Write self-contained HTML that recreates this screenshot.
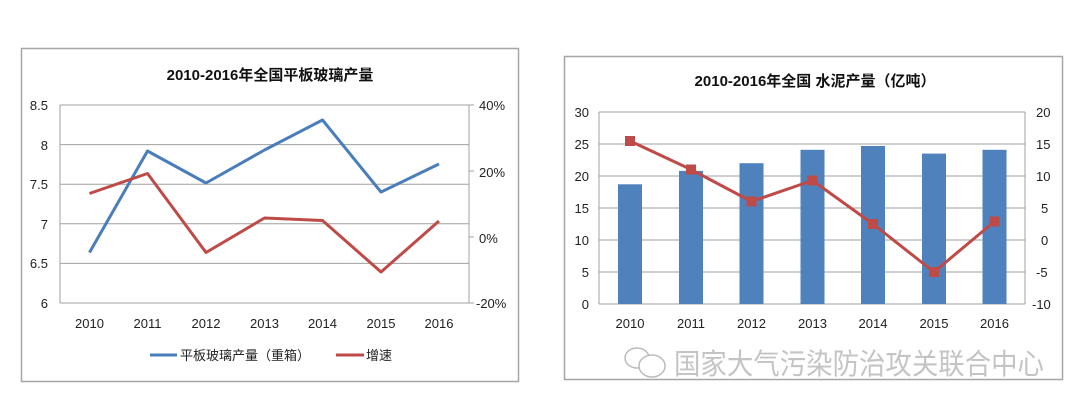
<!DOCTYPE html>
<html><head><meta charset="utf-8"><style>
html,body{margin:0;padding:0;background:#fff;}
svg{display:block;font-family:"Liberation Sans","Noto Sans CJK SC",sans-serif;}
</style></head><body>
<svg width="1080" height="407" viewBox="0 0 1080 407">
<!-- LEFT CHART -->
<rect x="21.5" y="48.5" width="497" height="333" fill="#fff" stroke="#a6a6a6" stroke-width="1.5"/>
<text x="270" y="80" text-anchor="middle" font-size="15" font-weight="bold" fill="#111">2010-2016年全国平板玻璃产量</text>
<g stroke="#a0a0a0" stroke-width="1">
<line x1="60" y1="105" x2="469" y2="105"/>
<line x1="60" y1="144.6" x2="469" y2="144.6"/>
<line x1="60" y1="184.2" x2="469" y2="184.2"/>
<line x1="60" y1="223.8" x2="469" y2="223.8"/>
<line x1="60" y1="263.4" x2="469" y2="263.4"/>
<line x1="60" y1="303" x2="469" y2="303"/>
<line x1="60" y1="105" x2="60" y2="303"/>
<line x1="469" y1="105" x2="469" y2="303"/>
<line x1="469" y1="105" x2="474" y2="105"/>
<line x1="469" y1="171" x2="474" y2="171"/>
<line x1="469" y1="237" x2="474" y2="237"/>
<line x1="469" y1="303" x2="474" y2="303"/>
</g>
<g font-size="13" fill="#222" text-anchor="end">
<text x="48" y="110">8.5</text><text x="48" y="150">8</text><text x="48" y="189">7.5</text>
<text x="48" y="229">7</text><text x="48" y="268">6.5</text><text x="48" y="308">6</text>
</g>
<g font-size="13" fill="#222" text-anchor="start">
<text x="479" y="110">40%</text><text x="479" y="177">20%</text><text x="479" y="243">0%</text><text x="476" y="308">-20%</text>
</g>
<g font-size="13" fill="#222" text-anchor="middle">
<text x="89.5" y="328">2010</text><text x="147.5" y="328">2011</text><text x="206" y="328">2012</text>
<text x="264.5" y="328">2013</text><text x="322.5" y="328">2014</text><text x="381" y="328">2015</text><text x="439" y="328">2016</text>
</g>
<polyline fill="none" stroke="#4a7ebb" stroke-width="3" stroke-linejoin="round" points="89.5,252.5 147.5,151 206,183 264.5,150 322.5,120 381,192 439,164"/>
<polyline fill="none" stroke="#be4b48" stroke-width="3" stroke-linejoin="round" points="89.5,193.5 147.5,173.5 206,252.5 264.5,218 322.5,220.5 381,272 439,221"/>
<line x1="150" y1="355" x2="177" y2="355" stroke="#4a7ebb" stroke-width="3"/>
<text x="180" y="360" font-size="13" fill="#222">平板玻璃产量（重箱）</text>
<line x1="336" y1="355" x2="364" y2="355" stroke="#be4b48" stroke-width="3"/>
<text x="366" y="360" font-size="13" fill="#222">增速</text>

<!-- RIGHT CHART -->
<rect x="564.5" y="56.5" width="498" height="323" fill="#fff" stroke="#a6a6a6" stroke-width="1.5"/>
<text x="815" y="86" text-anchor="middle" font-size="15" font-weight="bold" fill="#111">2010-2016年全国 水泥产量（亿吨）</text>
<g stroke="#a0a0a0" stroke-width="1">
<line x1="599" y1="112" x2="1025" y2="112"/>
<line x1="599" y1="144" x2="1025" y2="144"/>
<line x1="599" y1="176" x2="1025" y2="176"/>
<line x1="599" y1="208" x2="1025" y2="208"/>
<line x1="599" y1="240" x2="1025" y2="240"/>
<line x1="599" y1="272" x2="1025" y2="272"/>
<line x1="599" y1="304" x2="1025" y2="304"/>
<line x1="599" y1="112" x2="599" y2="304"/>
<line x1="1025" y1="112" x2="1025" y2="304"/>
</g>
<g fill="#4f81bd">
<rect x="618" y="184.3" width="24" height="119.7"/>
<rect x="679" y="170.9" width="24" height="133.1"/>
<rect x="739.5" y="163.2" width="24" height="140.8"/>
<rect x="800.5" y="149.8" width="24" height="154.2"/>
<rect x="861" y="146" width="24" height="158"/>
<rect x="922" y="153.6" width="24" height="150.4"/>
<rect x="982.5" y="149.8" width="24" height="154.2"/>
</g>
<g font-size="13" fill="#222" text-anchor="end">
<text x="589" y="117">30</text><text x="589" y="149">25</text><text x="589" y="181">20</text>
<text x="589" y="213">15</text><text x="589" y="245">10</text><text x="589" y="277">5</text><text x="589" y="309">0</text>
</g>
<g font-size="13" fill="#222" text-anchor="start">
<text x="1036" y="117">20</text><text x="1036" y="149">15</text><text x="1036" y="181">10</text>
<text x="1041" y="213">5</text><text x="1041" y="245">0</text><text x="1036" y="277">-5</text><text x="1032" y="309">-10</text>
</g>
<g font-size="13" fill="#222" text-anchor="middle">
<text x="630" y="328">2010</text><text x="691" y="328">2011</text><text x="751.5" y="328">2012</text>
<text x="812.5" y="328">2013</text><text x="873" y="328">2014</text><text x="934" y="328">2015</text><text x="994.5" y="328">2016</text>
</g>
<polyline fill="none" stroke="#be4b48" stroke-width="3" stroke-linejoin="round" points="630,141 691,169.5 751.5,201.5 812.5,180.5 873,224 934,272 994.5,221.5"/>
<g fill="#be4b48">
<rect x="625" y="136" width="10" height="10"/><rect x="686" y="164.5" width="10" height="10"/>
<rect x="746.5" y="196.5" width="10" height="10"/><rect x="807.5" y="175.5" width="10" height="10"/>
<rect x="868" y="219" width="10" height="10"/><rect x="929" y="267" width="10" height="10"/>
<rect x="989.5" y="216.5" width="10" height="10"/>
</g>
<!-- watermark -->
<g fill="none" stroke="#bbb" stroke-width="1.5">
<ellipse cx="637" cy="358" rx="12" ry="10"/>
<ellipse cx="652" cy="366" rx="13" ry="11" fill="#fff"/>
</g>
<text x="674" y="374" font-size="29" fill="#c4c4c4" textLength="370" lengthAdjust="spacingAndGlyphs">国家大气污染防治攻关联合中心</text>
</svg>
</body></html>
